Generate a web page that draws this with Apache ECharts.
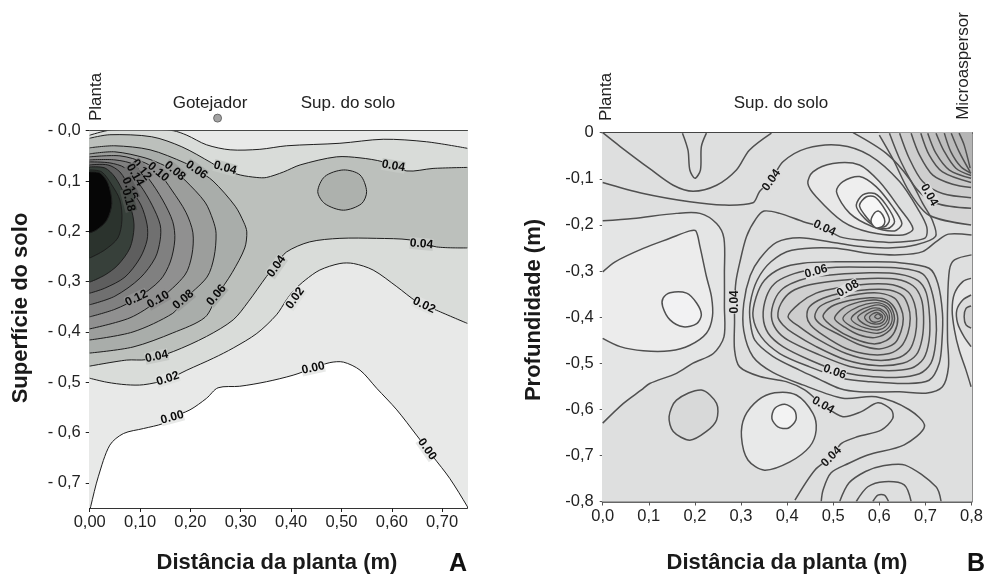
<!DOCTYPE html>
<html><head><meta charset="utf-8">
<style>html,body{margin:0;padding:0;background:#fff}#c{width:986px;height:574px}</style>
<script src="https://cdn.jsdelivr.net/npm/echarts@6/dist/echarts.min.js"></script>
</head><body><div id="c"></div>
<script>
// ---------- Panel A: contours [distance, depth] ----------
const a000=[[-.01,.8],[.002,.747],[.017,.688],[.040,.625],[.067,.602],[.107,.592],[.146,.582],[.163,.570],[.199,.555],[.232,.532],[.255,.511],[.298,.508],[.351,.499],[.404,.486],[.444,.472],[.477,.461],[.504,.460],[.537,.476],[.570,.512],[.610,.555],[.649,.605],[.682,.648],[.715,.691],[.750,.747],[.78,.8]];
const a002Low=[[0,.492],[.034,.500],[.073,.505],[.107,.505],[.153,.495],[.193,.476],[.246,.452],[.285,.432],[.332,.403],[.371,.366],[.391,.336],[.405,.318],[.428,.297],[.457,.277],[.497,.264],[.524,.264],[.563,.277],[.610,.310],[.650,.340],[.689,.357],[.750,.383]];
const a002Up=[[.750,.035],[.669,.022],[.583,.017],[.497,.025],[.391,.030],[.338,.037],[.279,.038],[.232,.028],[.193,.009],[.166,0],[.12,-.003],[.04,-.001],[0,.009]];
const a004Low=[[0,.468],[.073,.456],[.113,.455],[.166,.439],[.232,.409],[.285,.376],[.315,.340],[.351,.290],[.371,.265],[.391,.241],[.437,.221],[.497,.214],[.570,.214],[.636,.217],[.689,.231],[.750,.233]];
const a004Up=[[.750,.073],[.682,.075],[.630,.080],[.583,.062],[.537,.054],[.490,.052],[.418,.068],[.385,.082],[.351,.093],[.332,.093],[.299,.088],[.259,.075],[.242,.064],[.183,.032],[.123,.012],[.04,.008],[0,.015]];
const a006=[[0,.034],[.050,.030],[.120,.038],[.189,.064],[.213,.078],[.245,.100],[.289,.150],[.306,.182],[.312,.201],[.308,.233],[.283,.282],[.253,.328],[.229,.371],[.165,.402],[.086,.430],[0,.442]];
const a008=[[0,.046],[.050,.042],[.110,.054],[.150,.070],[.170,.082],[.189,.098],[.229,.142],[.245,.178],[.251,.204],[.247,.251],[.233,.291],[.186,.337],[.165,.363],[.086,.400],[0,.416]];
const a010=[[0,.052],[.060,.050],[.110,.064],[.136,.082],[.163,.118],[.191,.162],[.205,.203],[.203,.247],[.189,.287],[.136,.337],[.080,.372],[0,.394]];
const a012=[[0,.058],[.050,.058],[.090,.068],[.116,.094],[.145,.138],[.165,.181],[.169,.217],[.160,.261],[.140,.297],[.094,.333],[.050,.355],[0,.370]];
const a014=[[0,.062],[.040,.064],[.070,.074],[.100,.108],[.124,.148],[.140,.187],[.140,.217],[.130,.253],[.100,.293],[.050,.329],[0,.346]];
const a016=[[0,.068],[.036,.068],[.060,.082],[.080,.114],[.102,.148],[.114,.187],[.114,.217],[.100,.253],[.070,.291],[.030,.313],[0,.323]];
const a018=[[0,.072],[.030,.074],[.050,.092],[.070,.128],[.084,.162],[.088,.193],[.080,.233],[.056,.267],[.030,.287],[0,.301]];
const a020=[[0,.078],[.024,.082],[.044,.108],[.060,.138],[.064,.178],[.056,.213],[.030,.237],[0,.253]];
const a022=[[0,.082],[.020,.084],[.036,.104],[.044,.144],[.034,.178],[.014,.197],[0,.203]];
const aBlob=[[.504,.078],[.537,.088],[.550,.121],[.540,.145],[.504,.158],[.467,.145],[.453,.121],[.467,.091]];
const emitter=[[.254,-.025]];
const aLabelPts=[[.269,.074,-15],[.212,.078,-35],[.169,.080,-40],[.136,.082,-40],[.103,.078,-50],[.090,.088,-60],[.080,.115,-65],[.077,.138,-75],[.093,.333,25],[.136,.336,30],[.186,.336,40],[.252,.327,50],[.133,.449,12],[.371,.270,55],[.408,.333,55],[.603,.070,-10],[.659,.225,-5],[.664,.347,-25],[.155,.493,18],[.164,.570,15],[.444,.472,12],[.670,.633,-55]];
const aLabelTxt=['0.04','0.06','0.08','0.10','0.12','0.14','0.16','0.18','0.12','0.10','0.08','0.06','0.04','0.04','0.02','0.04','0.04','0.02','0.02','0.00','0.00','0.00'];
// ---------- Panel B ----------
const b1=[[0,0],[.038,.030],[.102,.078],[.153,.114],[.196,.127],[.247,.114],[.290,.081],[.318,.038],[.366,.001]];
const b2=[[.173,.001],[.185,.038],[.189,.081],[.200,.099],[.212,.081],[.214,.030],[.225,.001]];
const b3=[[0,.108],[.088,.132],[.189,.150],[.261,.157],[.326,.152],[.340,.128],[.366,.102],[.391,.063],[.442,.034],[.514,.027],[.579,.049],[.644,.106],[.687,.171],[.703,.205],[.70,.228],[.67,.235],[.62,.238],[.56,.233],[.515,.226],[.481,.207],[.435,.193],[.384,.175],[.350,.170],[.333,.186],[.312,.225],[.297,.283],[.289,.323],[.286,.370],[.286,.410],[.286,.471],[.297,.508],[.341,.529],[.398,.540],[.438,.558],[.478,.591],[.521,.616],[.561,.605],[.597,.586],[.626,.601],[.629,.620],[.604,.645],[.554,.659],[.518,.674],[.496,.703],[.460,.732],[.417,.797]];
const b4=[[0,.191],[.066,.186],[.160,.175],[.211,.175],[.247,.197],[.263,.229],[.264,.305],[.264,.377],[.263,.443],[.240,.479],[.196,.500],[.160,.522],[.102,.544],[.084,.558],[.045,.587],[0,.630]];
const b5=[[0,.302],[.027,.280],[.088,.251],[.146,.229],[.189,.213],[.202,.213],[.211,.247],[.225,.312],[.236,.356],[.238,.399],[.225,.435],[.189,.461],[.146,.473],[.088,.473],[.038,.464],[0,.446]];
const b6=[[.146,.347],[.182,.348],[.204,.370],[.214,.395],[.204,.414],[.175,.421],[.146,.406],[.130,.377],[.131,.359]];
const b8=[[.474,.80],[.478,.775],[.495,.738],[.534,.717],[.575,.699],[.654,.677],[.698,.637],[.665,.601],[.593,.573],[.521,.576],[.434,.547],[.369,.520],[.326,.486],[.306,.43],[.306,.37],[.32,.31],[.341,.273],[.377,.238],[.427,.228],[.50,.238],[.56,.247],[.62,.25],[.68,.243],[.722,.225],[.715,.19],[.695,.155],[.665,.10],[.615,.045],[.543,0]];
const b9=[[.80,.265],[.763,.276],[.752,.298],[.748,.377],[.748,.45],[.75,.508],[.737,.551],[.701,.565],[.644,.562],[.557,.562],[.514,.555],[.47,.535],[.427,.515],[.369,.485],[.33,.45],[.32,.41],[.32,.37],[.335,.32],[.365,.28],[.41,.255],[.50,.25],[.58,.262],[.644,.265],[.694,.258],[.725,.235],[.75,.22],[.80,.222]];
const ring1=[[.326,.399],[.333,.356],[.351,.320],[.387,.294],[.434,.283],[.506,.280],[.579,.280],[.644,.282],[.708,.294],[.727,.327],[.737,.392],[.736,.450],[.730,.500],[.708,.537],[.658,.544],[.579,.540],[.521,.533],[.449,.508],[.384,.479],[.344,.443]];
const ring2=[[.348,.399],[.355,.356],[.373,.327],[.406,.309],[.449,.298],[.506,.292],[.579,.292],[.644,.294],[.694,.306],[.712,.338],[.723,.399],[.722,.457],[.712,.500],[.687,.523],[.636,.531],[.572,.528],[.514,.518],[.449,.493],[.391,.464],[.359,.435]];
const ring3=[[.366,.399],[.373,.363],[.391,.338],[.427,.320],[.470,.311],[.579,.304],[.644,.307],[.684,.321],[.702,.348],[.709,.399],[.708,.450],[.696,.490],[.669,.511],[.608,.516],[.536,.507],[.463,.479],[.402,.450],[.377,.428]];
const ring4=[[.380,.399],[.387,.370],[.409,.345],[.449,.330],[.506,.321],[.579,.316],[.637,.318],[.673,.332],[.691,.360],[.696,.399],[.693,.446],[.680,.482],[.651,.500],[.593,.505],[.528,.493],[.463,.464],[.413,.435],[.391,.417]];
const ring5=[[.402,.399],[.427,.370],[.463,.348],[.514,.336],[.579,.328],[.629,.330],[.662,.345],[.676,.370],[.681,.403],[.678,.439],[.665,.472],[.636,.490],[.586,.493],[.528,.479],[.470,.450],[.427,.421]];
const ring6=[[.443,.399],[.449,.377],[.478,.359],[.521,.347],[.579,.340],[.622,.341],[.651,.354],[.663,.377],[.667,.403],[.662,.435],[.647,.464],[.622,.479],[.579,.481],[.528,.468],[.478,.439],[.451,.417]];
const ring7=[[.460,.399],[.471,.377],[.507,.361],[.557,.350],[.600,.348],[.633,.359],[.647,.381],[.652,.403],[.647,.431],[.633,.457],[.600,.469],[.557,.460],[.507,.435],[.474,.417]];
const ring8=[[.478,.399],[.496,.377],[.535,.364],[.579,.358],[.611,.361],[.631,.377],[.640,.403],[.633,.432],[.615,.451],[.586,.458],[.543,.446],[.503,.424]];
const ring9=[[.503,.403],[.521,.381],[.557,.367],[.593,.363],[.622,.374],[.633,.403],[.623,.428],[.593,.444],[.557,.439],[.525,.422]];
const ring10=[[.521,.403],[.539,.385],[.571,.372],[.599,.369],[.619,.379],[.628,.403],[.619,.424],[.597,.435],[.565,.430],[.537,.419]];
const ring11=[[.539,.403],[.557,.386],[.582,.376],[.602,.374],[.617,.383],[.622,.403],[.615,.419],[.597,.428],[.571,.424],[.550,.415]];
const ring12=[[.553,.401],[.568,.388],[.590,.380],[.608,.385],[.618,.401],[.611,.415],[.593,.422],[.571,.417]];
const ring13=[[.568,.400],[.582,.388],[.600,.385],[.613,.399],[.606,.412],[.590,.415],[.575,.410]];
const ring14=[[.579,.399],[.593,.390],[.606,.396],[.606,.405],[.593,.411],[.582,.408]];
const ring15=[[.590,.399],[.597,.393],[.604,.399],[.597,.404]];
const r1=[[.773,.001],[.784,.027],[.797,.077]];
const r2=[[.756,.001],[.773,.041],[.797,.085]];
const r3=[[.741,.001],[.755,.041],[.777,.074],[.799,.088]];
const r4=[[.723,.001],[.741,.041],[.766,.077],[.799,.093]];
const r5=[[.705,.001],[.723,.045],[.752,.081],[.799,.099]];
const r6=[[.69,.001],[.708,.048],[.737,.085],[.799,.108]];
const r7=[[.669,.001],[.687,.048],[.716,.092],[.759,.112],[.799,.119]];
const r8=[[.644,.001],[.665,.056],[.694,.106],[.737,.132],[.799,.141]];
const r9=[[.622,.001],[.647,.063],[.680,.121],[.723,.153],[.799,.164]];
const r10=[[.600,.005],[.629,.056],[.665,.128],[.708,.179],[.799,.200]];
const e1=[[.799,.316],[.781,.323],[.763,.349],[.758,.385],[.763,.428],[.773,.471],[.788,.515],[.799,.551]];
const e2=[[.799,.352],[.781,.363],[.768,.385],[.770,.414],[.784,.443],[.799,.464]];
const e3=[[.799,.376],[.788,.381],[.784,.399],[.788,.417],[.799,.424]];
const blob1=[[.445,.110],[.456,.085],[.499,.067],[.557,.070],[.600,.106],[.644,.164],[.673,.208],[.651,.222],[.579,.216],[.521,.193],[.463,.139]];
const blob2=[[.507,.128],[.521,.106],[.557,.095],[.593,.117],[.629,.161],[.649,.197],[.633,.213],[.586,.204],[.536,.175]];
const blob3=[[.550,.157],[.564,.135],[.590,.132],[.615,.157],[.633,.193],[.618,.208],[.586,.200],[.561,.178]];
const blob4=[[.557,.157],[.572,.139],[.590,.139],[.608,.160],[.622,.189],[.611,.204],[.586,.197],[.568,.178]];
const blob5=[[.582,.193],[.588,.176],[.598,.170],[.607,.178],[.612,.193],[.606,.204],[.592,.206]];
const d1=[[.214,.558],[.247,.587],[.247,.623],[.225,.648],[.189,.667],[.153,.648],[.144,.616],[.160,.580]];
const d2=[[.373,.564],[.420,.569],[.456,.609],[.463,.645],[.449,.681],[.406,.714],[.351,.732],[.315,.710],[.301,.660],[.308,.616],[.337,.580]];
const d3=[[.395,.589],[.416,.602],[.419,.623],[.402,.641],[.380,.638],[.367,.620],[.373,.598]];
const f1=[[.514,.80],[.534,.76],[.570,.735],[.606,.723],[.656,.721],[.723,.768],[.734,.80]];
const f2=[[.550,.80],[.575,.768],[.611,.757],[.654,.764],[.669,.80]];
const f3=[[.586,.80],[.597,.786],[.611,.786],[.620,.80]];
const bLabelPts=[[.366,.103,55],[.481,.207,-25],[.708,.135,-60],[.463,.301,15],[.532,.338,30],[.503,.519,-20],[.478,.591,-30],[.496,.703,45],[.286,.367,90]];
const bLabelTxt=['0.04','0.04','0.04','0.06','0.08','0.06','0.04','0.04','0.04'];

const FONT='"Liberation Sans",Arial,sans-serif';
const series=[];
function shape(g,pts,o){
  series.push({type:'custom',xAxisIndex:g,yAxisIndex:g,clip:true,silent:true,animation:false,
    data:pts,encode:{x:0,y:1},
    renderItem(p,api){
      if(p.dataIndex!==0) return null;
      const pp=pts.map(q=>api.coord(q));
      return {type:o.closed?'polygon':'polyline',shape:{points:pp,smooth:o.smooth===undefined?.3:o.smooth},
        style:{fill:o.fill||null,stroke:o.stroke||null,lineWidth:o.width||1}};
    }});
}
const fill=(g,pts,c)=>shape(g,pts,{closed:true,fill:c});
const line=(g,pts,c,w)=>shape(g,pts,{stroke:c,width:w});
const loop=(g,pts,f,c,w)=>shape(g,pts,{closed:true,fill:f,stroke:c,width:w});
function labels(g,pts,txt,bg,col){
  series.push({type:'custom',xAxisIndex:g,yAxisIndex:g,clip:false,silent:true,animation:false,z:5,
    data:pts,encode:{x:0,y:1},
    renderItem(p,api){
      const c=api.coord([api.value(0),api.value(1)]);
      const b=Array.isArray(bg)?bg[p.dataIndex]:bg;
      return {type:'text',x:c[0],y:c[1],rotation:api.value(2)*Math.PI/180,
        style:{text:txt[p.dataIndex],font:'bold 12px '+FONT,fill:col,align:'center',verticalAlign:'middle',backgroundColor:b,padding:[0,0]}};
    }});
}
// --- Panel A fills, outer to inner
const AL='#1e1e1e';
fill(0,[...a000,[.85,.8],[.85,-.05],[-.05,-.05],[-.05,.8]],'#e8e9e8');
fill(0,[...a002Low,[.85,.383],[.85,.035],...a002Up,[-.05,.009],[-.05,.492]],'#d9dcd9');
fill(0,[...a004Low,[.85,.233],[.85,.073],...a004Up,[-.05,.015],[-.05,.468]],'#bcc0bc');
[[a006,'#a9adaa'],[a008,'#9c9e9c'],[a010,'#909090'],[a012,'#808080'],[a014,'#707070'],[a016,'#5e5e5e'],[a018,'#37403a'],[a020,'#2b332d'],[a022,'#060606']].forEach(([c,col])=>{
  fill(0,[[-.05,c[0][1]],...c,[-.05,c[c.length-1][1]]],col);
});
loop(0,aBlob,'#adb1ad',AL,1);
[a000,a002Low,a002Up,a004Low,a004Up,a006,a008,a010,a012,a014,a016,a018,a020,a022].forEach(c=>line(0,c,AL,1));
labels(0,aLabelPts,aLabelTxt,['#c4c8c4','#a9adaa','#9c9e9c','#909090','#808080','#707070','#5e5e5e','#4a4f4b','#909090','#909090','#9c9e9c','#a9adaa','#c9ccc9','#c9ccc9','#e0e2e0','#c4c8c4','#c9ccc9','#e0e2e0','#e0e2e0','#e8e9e8','#e8e9e8','#e8e9e8'],'#0a0a0a');
series.push({type:'scatter',xAxisIndex:0,yAxisIndex:0,data:emitter,symbolSize:8,silent:true,animation:false,clip:false,
  itemStyle:{color:'#8c8c8c',borderColor:'#555',borderWidth:1}});
// --- Panel B fills
const BL='#505050',BW=1.5;
fill(2,[[-.05,-.05],[.85,-.05],[.85,.85],[-.05,.85]],'#dedfdf');
fill(2,[[-.05,.191],...b4,[-.05,.630]],'#e4e5e5');
fill(2,[[-.05,.302],...b5,[-.05,.446]],'#ececec');
[[r10,'#d6d6d6'],[r9,'#d2d2d2'],[r8,'#cecece'],[r7,'#c9c9c9'],[r6,'#c5c5c5'],[r5,'#c1c1c1'],[r4,'#bebebe'],[r3,'#bbbbbb'],[r2,'#b8b8b8'],[r1,'#b5b5b5']].forEach(([c,col])=>{
  fill(2,[...c,[.85,c[c.length-1][1]],[.85,-.05],[c[0][0],-.05]],col);
});
[[e1,'#e6e6e6'],[e2,'#dcdcdc'],[e3,'#d2d2d2']].forEach(([c,col])=>fill(2,[[.85,c[0][1]],...c,[.85,c[c.length-1][1]]],col));
const ringCols=['#d9d9d9','#d6d6d6','#d3d3d3','#d0d0d0','#cdcdcd','#cacaca','#c7c7c7','#c4c4c4','#c0c0c0','#bcbcbc','#b8b8b8','#b4b4b4','#b0b0b0','#acacac','#a8a8a8'];
[ring1,ring2,ring3,ring4,ring5,ring6,ring7,ring8,ring9,ring10,ring11,ring12,ring13,ring14,ring15].forEach((c,i)=>loop(2,c,ringCols[i],BL,i>8?1.3:BW));
[[blob1,'#e8e8e8'],[blob2,'#eeeeee'],[blob3,'#f3f3f3'],[blob4,'#f6f6f6'],[blob5,'#fcfcfc']].forEach(([c,col])=>loop(2,c,col,BL,BW));
loop(2,b6,'#f2f2f3',BL,BW);
loop(2,d1,'#d8d9d9',BL,BW);
loop(2,d2,'#e8e9e9',BL,BW);
loop(2,d3,'#f3f3f3',BL,BW);
[b1,b2,b3,b4,b5,b8,b9,r1,r2,r3,r4,r5,r6,r7,r8,r9,r10,e1,e2,e3,f1,f2,f3].forEach(c=>line(2,c,BL,BW));
labels(2,bLabelPts,bLabelTxt,'#dedede','#161616');

const tick={length:4,lineStyle:{color:'#222',width:1}};
const al=(fmt,m,s)=>({color:'#222',fontFamily:FONT,fontSize:s,margin:m,formatter:fmt});
const xA=v=>v.toFixed(2).replace('.',','), yA=v=>'- '+v.toFixed(1).replace('.',',');
const xB=v=>v.toFixed(1).replace('.',','), yB=v=>v===0?'0':'-'+v.toFixed(1).replace('.',',');
const frame=(col,w)=>({show:true,onZero:false,lineStyle:{color:col,width:w}});
const option={
  animation:false,backgroundColor:'#fff',
  grid:[{left:89.7,top:130.7,width:377.6,height:377.3},{left:602.7,top:132.7,width:369.6,height:368.8}],
  xAxis:[
   {gridIndex:0,type:'value',min:0,max:.75,interval:.1,position:'bottom',axisLine:frame('#333',1),axisTick:tick,splitLine:{show:false},axisLabel:{...al(xA,6,16.5),showMaxLabel:false}},
   {gridIndex:0,type:'value',min:0,max:.75,position:'top',axisLine:frame('#111',1),axisTick:{show:false},axisLabel:{show:false},splitLine:{show:false}},
   {gridIndex:1,type:'value',min:0,max:.8,interval:.1,position:'bottom',axisLine:frame('#666',2),axisTick:{length:4,lineStyle:{color:'#555'}},splitLine:{show:false},axisLabel:al(xB,6,16.5)},
   {gridIndex:1,type:'value',min:0,max:.8,position:'top',axisLine:frame('#111',2),axisTick:{show:false},axisLabel:{show:false},splitLine:{show:false}}
  ],
  yAxis:[
   {gridIndex:0,type:'value',inverse:true,min:0,max:.75,interval:.1,position:'left',axisLine:frame('#555',1),axisTick:tick,splitLine:{show:false},axisLabel:{...al(yA,9,16.5),showMaxLabel:false}},
   {gridIndex:0,type:'value',inverse:true,min:0,max:.75,position:'right',axisLine:frame('#333',1),axisTick:{show:false},axisLabel:{show:false},splitLine:{show:false}},
   {gridIndex:1,type:'value',inverse:true,min:0,max:.8,interval:.1,position:'left',axisLine:frame('#777',1.5),axisTick:{length:3,lineStyle:{color:'#555'}},splitLine:{show:false},axisLabel:al(yB,9,16.5)},
   {gridIndex:1,type:'value',inverse:true,min:0,max:.8,position:'right',axisLine:frame('#666',1.5),axisTick:{show:false},axisLabel:{show:false},splitLine:{show:false}}
  ],
  series,
  graphic:[
   ...[['Superfície do solo',21,308],['Profundidade (m)',534,310]].map(t=>({type:'text',x:t[1],y:t[2],rotation:Math.PI/2,style:{text:t[0],font:`bold 22px ${FONT}`,fill:'#1a1a1a',align:'center',verticalAlign:'middle'}})),
   ...[['Distância da planta (m)',277,563],['Distância da planta (m)',787,563]].map(t=>({type:'text',x:t[1],y:t[2],style:{text:t[0],font:`bold 22px ${FONT}`,fill:'#1a1a1a',align:'center',verticalAlign:'middle'}})),
   ...[['A',458,564],['B',976,564]].map(t=>({type:'text',x:t[1],y:t[2],style:{text:t[0],font:`bold 25px ${FONT}`,fill:'#111',align:'center',verticalAlign:'middle'}})),
   ...[['Gotejador',210,103],['Sup. do solo',348,103],['Sup. do solo',781,103]].map(t=>({type:'text',x:t[1],y:t[2],style:{text:t[0],font:`17px ${FONT}`,fill:'#222',align:'center',verticalAlign:'middle'}})),
   ...[['Planta',96,97],['Planta',606,97],['Microaspersor',963,66]].map(t=>({type:'text',x:t[1],y:t[2],rotation:Math.PI/2,style:{text:t[0],font:`17px ${FONT}`,fill:'#222',align:'center',verticalAlign:'middle'}}))
  ]
};
echarts.init(document.getElementById('c'),null,{renderer:'canvas'}).setOption(option);
</script></body></html>
